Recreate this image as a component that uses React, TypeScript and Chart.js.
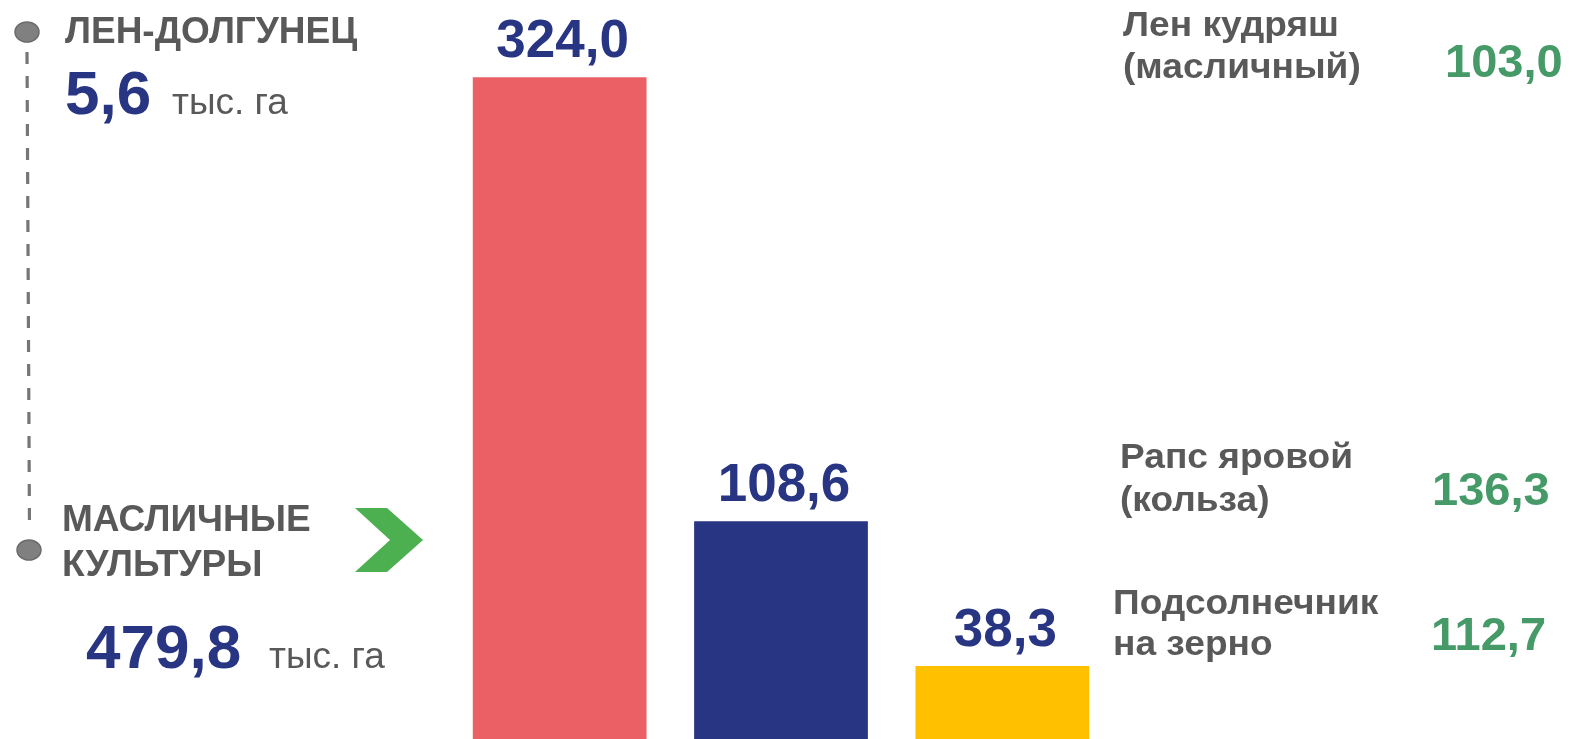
import React, { useEffect, useRef } from "react";
import { Chart, registerables } from "chart.js";

Chart.register(...registerables);

const categories = ["Рапс", "Подсолнечник", "Лён"];
const barValues = [324.0, 108.6, 38.3];
const barColors = ["#EA6064", "#283583", "#FFC000"];

const leftTitle = "ЛЕН-ДОЛГУНЕЦ";
const leftValue = "5,6";
const unit = "тыс. га";
const totalTitle = ["МАСЛИЧНЫЕ", "КУЛЬТУРЫ"];
const totalValue = "479,8";

const sideLabels = [
  ["Лен кудряш", "(масличный)"],
  ["Рапс яровой", "(кольза)"],
  ["Подсолнечник", "на зерно"],
];
const sideValues = ["103,0", "136,3", "112,7"];

const BLUE = "#283583";
const GRAY = "#595959";
const GREEN = "#459A68";
const FONT = "'Liberation Sans', Arial, sans-serif";

function Txt(props: {
  text: string;
  left: number;
  baseline: number;
  size: number;
  bold?: boolean;
  color: string;
  stretch?: number;
}) {
  const { text, left, baseline, size, bold, color, stretch } = props;
  return (
    <div
      style={{
        position: "absolute",
        left,
        top: baseline - 0.8465 * size,
        fontSize: size,
        lineHeight: size + "px",
        height: size,
        fontFamily: FONT,
        fontWeight: bold ? 700 : 400,
        transform: stretch ? `scaleX(${stretch})` : undefined,
        transformOrigin: "left center",
        color,
        whiteSpace: "nowrap",
      }}
    >
      {text}
    </div>
  );
}

const valueLabelPlugin = {
  id: "valueLabels",
  afterDatasetsDraw(chart: any) {
    const ctx = chart.ctx;
    const meta = chart.getDatasetMeta(0);
    ctx.save();
    ctx.font = `bold 53px ${FONT}`;
    ctx.fillStyle = BLUE;
    ctx.textAlign = "center";
    ctx.textBaseline = "alphabetic";
    meta.data.forEach((el: any, i: number) => {
      const v = chart.data.datasets[0].data[i] as number;
      ctx.fillText(v.toFixed(1).replace(".", ","), el.x + 3, el.y - 20);
    });
    ctx.restore();
  },
};

export default function App() {
  const ref = useRef<HTMLCanvasElement | null>(null);
  useEffect(() => {
    if (!ref.current) return;
    const chart = new Chart(ref.current, {
      type: "bar",
      data: {
        labels: categories,
        datasets: [
          {
            data: barValues,
            backgroundColor: barColors,
            borderWidth: 0,
            categoryPercentage: 1,
            barPercentage: 0.785,
          },
        ],
      },
      options: {
        animation: false,
        responsive: false,
        devicePixelRatio: 1,
        layout: { padding: { left: 449, right: 465, top: 3, bottom: 0 } },
        plugins: { legend: { display: false }, tooltip: { enabled: false } },
        scales: {
          x: { display: false, grid: { display: false } },
          y: { display: false, min: 0, max: 360, grid: { display: false } },
        },
      },
      plugins: [valueLabelPlugin],
    });
    return () => chart.destroy();
  }, []);

  return (
    <div
      style={{
        position: "fixed",
        left: 0,
        top: 0,
        width: 1578,
        height: 739,
        overflow: "hidden",
        background: "#ffffff",
      }}
    >
      <canvas ref={ref} width={1578} height={745} style={{ position: "absolute", left: 0, top: 0 }} />
      <svg width={1578} height={739} style={{ position: "absolute", left: 0, top: 0 }}>
        <line x1={27} y1={52} x2={29.5} y2={532} stroke="#767676" strokeWidth={3.2} strokeDasharray="12 12" />
        <ellipse cx={27} cy={32} rx={12} ry={10} fill="#808080" stroke="#6b6b6b" strokeWidth={1.5} />
        <ellipse cx={29} cy={550} rx={12} ry={10} fill="#808080" stroke="#6b6b6b" strokeWidth={1.5} />
        <polygon points="355,508 387,508 423,540 387,572 355,572 390,540" fill="#4CAF50" />
      </svg>
      <Txt text={leftTitle} left={65} baseline={43} size={37} bold color={GRAY} />
      <Txt text={leftValue} left={65} baseline={114} size={62} bold color={BLUE} />
      <Txt text={unit} left={172} baseline={114} size={37} color={GRAY} />
      <Txt text={totalTitle[0]} left={62} baseline={531} size={37} bold color={GRAY} />
      <Txt text={totalTitle[1]} left={62} baseline={576} size={37} bold color={GRAY} />
      <Txt text={totalValue} left={86} baseline={668} size={62} bold color={BLUE} />
      <Txt text={unit} left={269} baseline={668} size={37} color={GRAY} />

      <Txt text={sideLabels[0][0]} left={1123} baseline={36} size={35} stretch={1.06} bold color={GRAY} />
      <Txt text={sideLabels[0][1]} left={1123} baseline={78} size={35} stretch={1.06} bold color={GRAY} />
      <Txt text={sideValues[0]} left={1445} baseline={77} size={47} bold color={GREEN} />

      <Txt text={sideLabels[1][0]} left={1120} baseline={468} size={35} stretch={1.06} bold color={GRAY} />
      <Txt text={sideLabels[1][1]} left={1120} baseline={511} size={35} stretch={1.06} bold color={GRAY} />
      <Txt text={sideValues[1]} left={1432} baseline={505} size={47} bold color={GREEN} />

      <Txt text={sideLabels[2][0]} left={1113} baseline={614} size={35} stretch={1.06} bold color={GRAY} />
      <Txt text={sideLabels[2][1]} left={1113} baseline={655} size={35} stretch={1.06} bold color={GRAY} />
      <Txt text={sideValues[2]} left={1431} baseline={650} size={47} bold color={GREEN} />
    </div>
  );
}
